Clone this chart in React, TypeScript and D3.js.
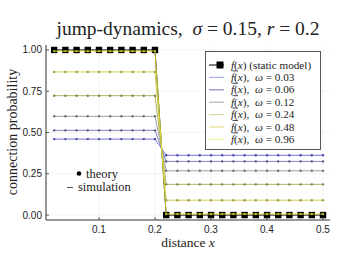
import React from "react";
import * as d3 from "d3";

// distances where theory / static model are evaluated
const distances = [
  0.02, 0.04, 0.06, 0.08, 0.1, 0.12, 0.14, 0.16, 0.18, 0.2,
  0.22, 0.24, 0.26, 0.28, 0.3, 0.32, 0.34, 0.36, 0.38, 0.4, 0.42, 0.44, 0.46, 0.48, 0.5,
];
const staticModel = [
  1, 1, 1, 1, 1, 1, 1, 1, 1, 1,
  0, 0, 0, 0, 0, 0, 0, 0, 0, 0, 0, 0, 0, 0, 0,
];
const omegas = [0.03, 0.06, 0.12, 0.24, 0.48, 0.96];
// connection probability for x <= r and x > r
const valueNear = [0.46, 0.513, 0.598, 0.723, 0.867, 0.993];
const valueFar = [0.362, 0.325, 0.268, 0.186, 0.09, 0.006];
const lineColors = ["#5a5ad6", "#6e6eae", "#8e8e8e", "#a4a452", "#c9c63c", "#e6e62a"];
const legendColors = ["#a8acf0", "#8c8cc8", "#b4b4b4", "#d8d8aa", "#e2e088", "#f6f4a0"];
const xTicks = [0.1, 0.2, 0.3, 0.4, 0.5];
const yTicks = [0, 0.25, 0.5, 0.75, 1];

const W = 349;
const H = 267;
const serif = "'Liberation Serif', 'DejaVu Serif', serif";
const sans = "'Liberation Sans', Arial, sans-serif";

export default function App() {
  const x = d3.scaleLinear().domain([0.0054, 0.5125]).range([46, 330]);
  const y = d3.scaleLinear().domain([-0.03, 1.03]).range([220, 45]);

  const line = d3
    .line<[number, number]>()
    .x((d) => x(d[0]))
    .y((d) => y(d[1]));

  const seriesPts = omegas.map((_, i) =>
    distances.map((d) => [d, d <= 0.2 + 1e-9 ? valueNear[i] : valueFar[i]] as [number, number])
  );
  const staticPts = distances.map((d, i) => [d, staticModel[i]] as [number, number]);

  const legendRows = omegas.map((w, i) => ({ w, color: legendColors[i] }));

  return (
    <svg
      width={W}
      height={H}
      style={{ position: "absolute", left: 0, top: 0, background: "#fff" }}
    >
      {/* grid */}
      {xTicks.map((t) => (
        <line key={"gx" + t} x1={x(t)} x2={x(t)} y1={45} y2={220} stroke="#000" strokeOpacity={0.08} strokeWidth={0.6} />
      ))}
      {yTicks.map((t) => (
        <line key={"gy" + t} x1={46} x2={330} y1={y(t)} y2={y(t)} stroke="#000" strokeOpacity={0.08} strokeWidth={0.6} />
      ))}

      {/* static model */}
      <path d={line(staticPts) || ""} fill="none" stroke="#000" strokeWidth={1} />
      {staticPts.map((p, i) => (
        <rect key={"sq" + i} x={x(p[0]) - 3.2} y={y(p[1]) - 3.2} width={6.4} height={6.4} fill="#000" />
      ))}

      {/* simulations */}
      {seriesPts.map((pts, i) => (
        <path key={"sim" + i} d={line(pts) || ""} fill="none" stroke={lineColors[i]} strokeWidth={1} strokeOpacity={0.85} />
      ))}
      {/* theory */}
      {seriesPts.map((pts, i) =>
        pts.map((p, j) => (
          <circle key={"th" + i + "-" + j} cx={x(p[0])} cy={y(p[1])} r={1.2} fill={d3.color(lineColors[i])!.darker(0.6).toString()} />
        ))
      )}

      {/* axes */}
      <line x1={46} x2={330} y1={220} y2={220} stroke="#333" strokeWidth={1} />
      <line x1={46} x2={46} y1={45} y2={220} stroke="#333" strokeWidth={1} />
      {xTicks.map((t) => (
        <g key={"xt" + t}>
          <line x1={x(t)} x2={x(t)} y1={220} y2={217} stroke="#333" strokeWidth={0.8} />
          <text x={x(t)} y={233} fontFamily={sans} fontSize={10} textAnchor="middle" fill="#222">
            {d3.format(".1f")(t)}
          </text>
        </g>
      ))}
      {yTicks.map((t) => (
        <g key={"yt" + t}>
          <line x1={46} x2={49} y1={y(t)} y2={y(t)} stroke="#333" strokeWidth={0.8} />
          <text x={42} y={y(t) + 3.5} fontFamily={sans} fontSize={10} textAnchor="end" fill="#222">
            {d3.format(".2f")(t)}
          </text>
        </g>
      ))}

      {/* titles */}
      <text x={188} y={35} fontFamily={serif} fontSize={19.5} textAnchor="middle" fill="#222">
        jump-dynamics,{"\u2002"}<tspan fontStyle="italic">σ</tspan> = 0.15, <tspan fontStyle="italic">r</tspan> = 0.2
      </text>
      <text x={188} y={247} fontFamily={serif} fontSize={13.5} textAnchor="middle" fill="#222">
        distance <tspan fontStyle="italic">x</tspan>
      </text>
      <text
        transform={`translate(17,${132}) rotate(-90)`}
        fontFamily={serif}
        fontSize={14}
        textAnchor="middle"
        fill="#222"
      >
        connection probability
      </text>

      {/* legend */}
      <rect x={205.5} y={51.5} width={115} height={98} fill="#fff" stroke="#555" strokeWidth={1} />
      <g fontFamily={serif} fontSize={11.2} fill="#222">
        <line x1={209} x2={224} y1={65} y2={65} stroke="#000" strokeWidth={1} />
        <rect x={216.5} y={61.5} width={7} height={7} fill="#000" />
        <text x={231} y={68.5}>
          <tspan fontStyle="italic">f</tspan>(<tspan fontStyle="italic">x</tspan>) (static model)
        </text>
        {legendRows.map((r, i) => {
          const yy = 77.4 + i * 12.4;
          return (
            <g key={"lg" + i}>
              <line x1={209} x2={224} y1={yy} y2={yy} stroke={r.color} strokeWidth={1.2} />
              <line x1={232.5} x2={238} y1={yy - 6.5} y2={yy - 6.5} stroke="#222" strokeWidth={0.8} />
              <text x={231} y={yy + 3.5}>
                <tspan fontStyle="italic">f</tspan>(<tspan fontStyle="italic">x</tspan>),{"\u2002"}
                <tspan fontStyle="italic">ω</tspan> = {r.w.toFixed(2)}
              </text>
            </g>
          );
        })}
      </g>

      {/* marker legend */}
      <g fontFamily={serif} fontSize={12.5} fill="#222">
        <circle cx={79} cy={173.5} r={2.3} fill="#000" />
        <text x={86} y={177.5}>theory</text>
        <line x1={67} x2={73} y1={187.5} y2={187.5} stroke="#555" strokeWidth={1} />
        <text x={78} y={191}>simulation</text>
      </g>
    </svg>
  );
}
